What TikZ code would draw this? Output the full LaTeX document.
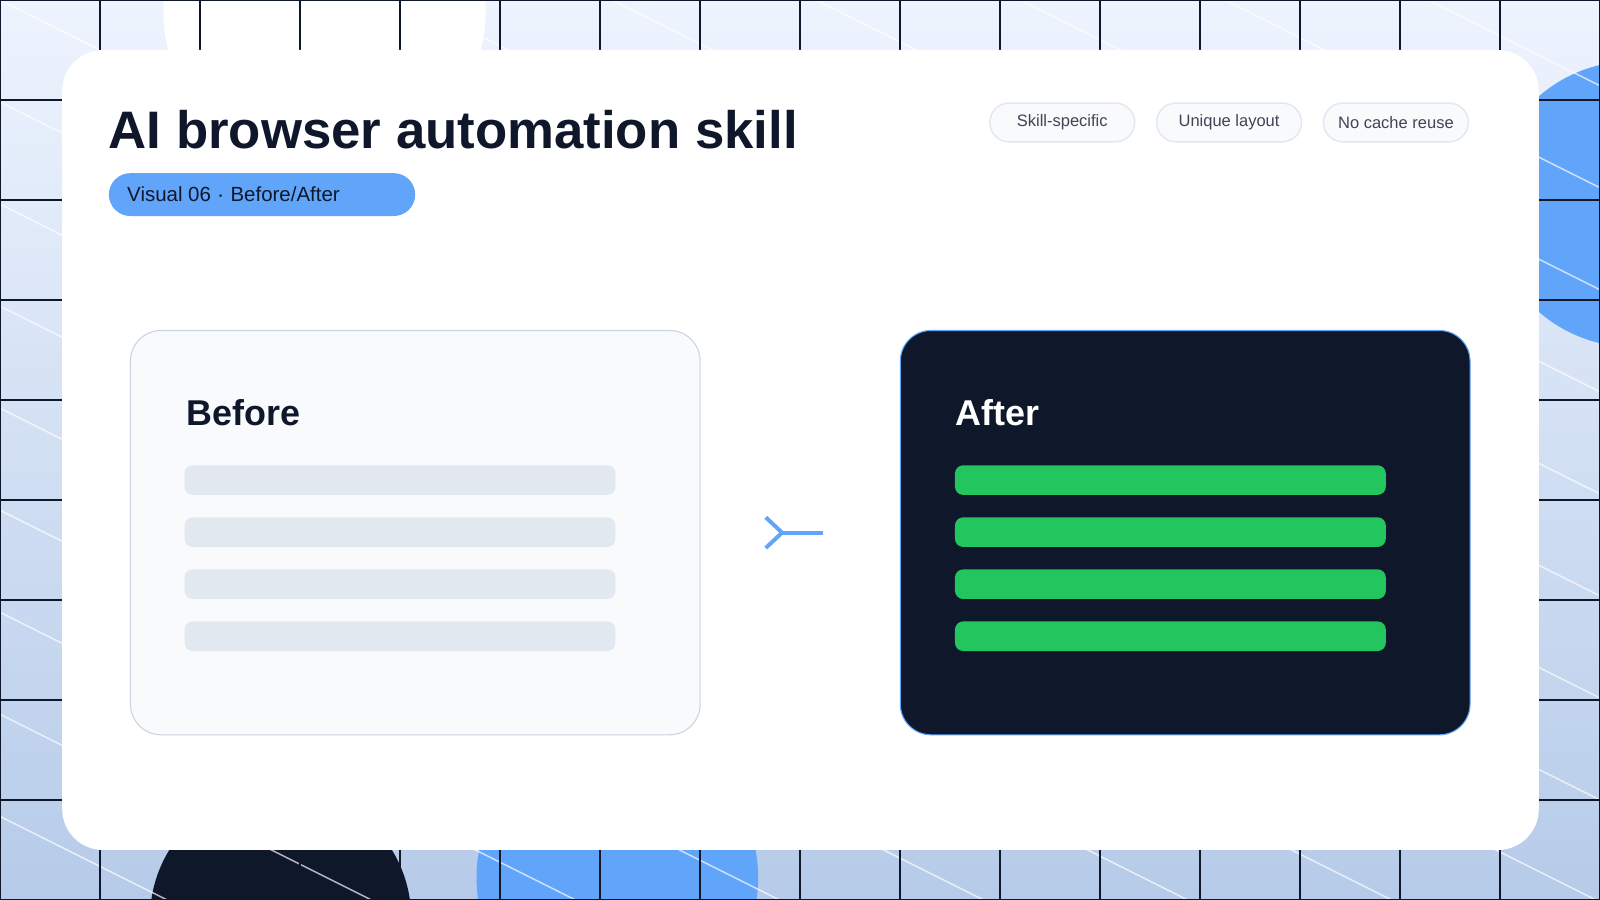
\documentclass[tikz,border=0pt]{standalone}
\usepackage{fontspec}
\setmainfont{Liberation Sans}
\usetikzlibrary{positioning,arrows.meta}
\definecolor{ink}{HTML}{0F172A}
\definecolor{sky}{HTML}{60A5FA}
\definecolor{paper}{HTML}{F8FAFC}
\definecolor{rim}{HTML}{CBD5E1}
\definecolor{slate}{HTML}{E2E8F0}
\definecolor{mint}{HTML}{22C55E}
\definecolor{bgtop}{HTML}{EEF4FE}
\definecolor{bgbot}{HTML}{B6CBE9}
\tikzset{
  tag/.style={draw=slate, fill=paper, rounded corners=1.9mm, minimum width=14.2mm, minimum height=3.8mm, inner sep=0pt, text=ink!80, font=\fontsize{4.6}{5}\selectfont},
  card/.style={rounded corners=3mm, minimum width=55.8mm, minimum height=39.6mm, inner sep=0pt, line width=0.3pt},
  bar/.style={rounded corners=0.8mm, minimum width=42.2mm, minimum height=2.9mm, inner sep=0pt},
  cardtitle/.style={anchor=base west, inner sep=0pt, font=\bfseries\fontsize{10}{12}\selectfont},
  flow/.style={draw=sky, line width=1.1pt, -{Straight Barb[length=1.6mm,width=3mm]}}
}
\begin{document}
\begin{tikzpicture}[x=0.01cm,y=-0.01cm]
  \useasboundingbox (0,0) rectangle (1568,882);
  % backdrop
  \fill[top color=bgtop, bottom color=bgbot] (0,0) rectangle (1568,882);
  \begin{scope}
    \clip (0,0) rectangle (1568,882);
    \fill[white] (318,10) circle (158);
    \fill[sky] (1600,200) circle (140);
    \fill[ink] (275,900) circle (128);
    \fill[sky] (605,860) circle (138);
    \foreach \c in {-800,-700,...,900}
      \draw[white, opacity=0.7, line width=0.4pt] (0,\c) -- (1568,\c+784);
    \foreach \x in {0,98,...,1568}
      \draw[ink, line width=0.5pt] (\x,0) -- (\x,882);
    \foreach \y in {0,98,...,882}
      \draw[ink, line width=0.5pt] (0,\y) -- (1568,\y);
  \end{scope}
  % main panel
  \fill[white, rounded corners=4mm] (61,49) rectangle (1508,833);
  \node[anchor=base west, inner sep=0pt, text=ink, font=\bfseries\fontsize{14.7}{16}\selectfont] (title) at (106,146) {AI browser automation skill};
  \node[fill=sky, rounded corners=2.1mm, minimum width=30mm, minimum height=4.2mm, inner sep=0pt, anchor=north west, text=ink] (badge) at (106,169) {};
  \node[anchor=west, inner sep=0pt, text=ink, font=\fontsize{5.7}{7}\selectfont] (badgetext) at (124,190) {Visual 06 $\cdot$ Before/After};
  \node[tag] (t1) at (1041,120) {Skill-specific};
  \node[tag, right=2mm of t1] (t2) {Unique layout};
  \node[tag, right=2mm of t2] (t3) {No cache reuse};
  % before / after
  \node[card, draw=rim, fill=paper] (before) at (407,522) {};
  \node[card, draw=sky, fill=ink] (after) at (1161.5,522) {};
  \node[cardtitle, text=ink] (beforetitle) at (182,417) {Before};
  \node[cardtitle, text=white] (aftertitle) at (936,417) {After};
  \foreach \y [count=\i] in {470.5,521.5,572.5,623.5} {
    \node[bar, fill=slate] (b\i) at (392,\y) {};
    \node[bar, fill=mint] (a\i) at (1147,\y) {};
  }
  \draw[flow, shorten <=34, shorten >=32] (before) -- (after);
\end{tikzpicture}
\end{document}
